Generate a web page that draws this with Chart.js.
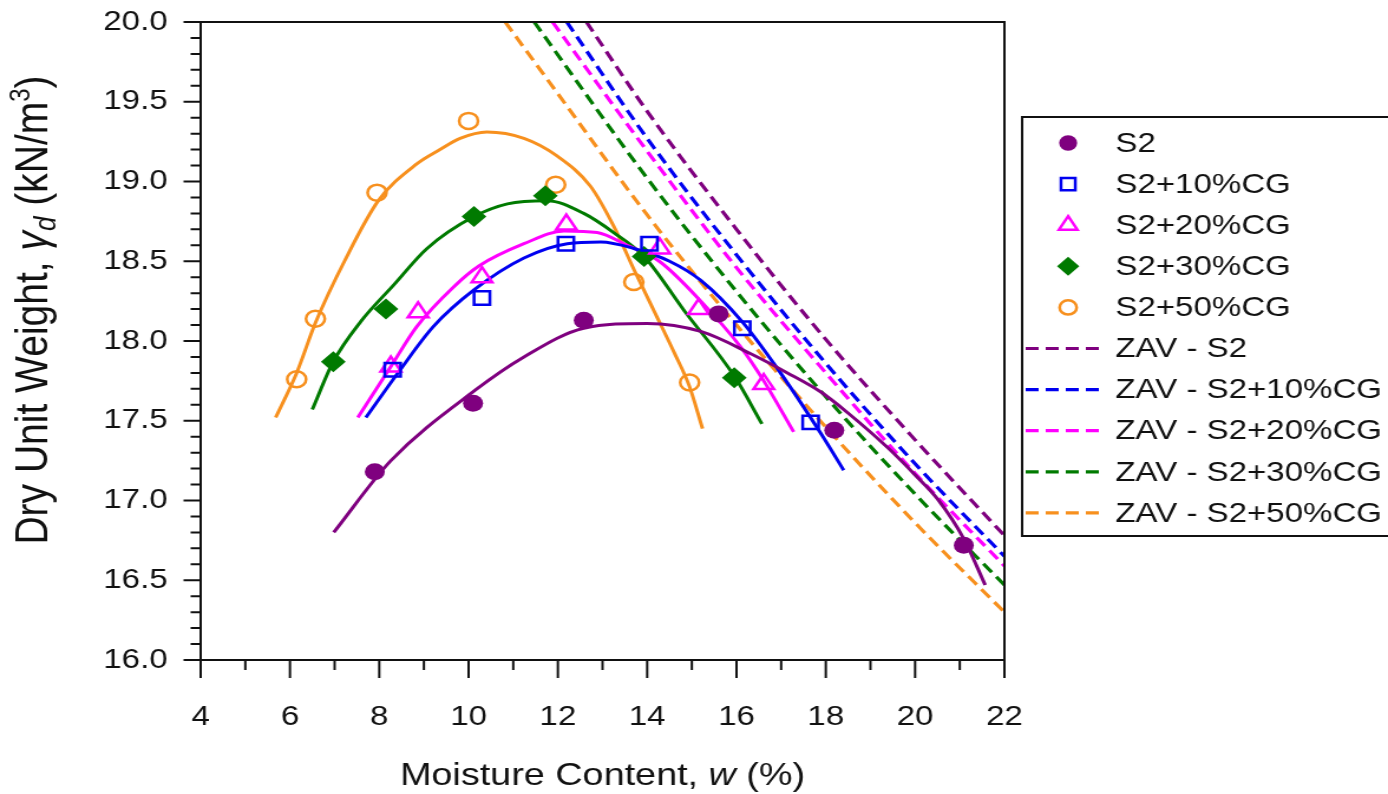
<!DOCTYPE html>
<html>
<head>
<meta charset="utf-8">
<script src="https://cdn.jsdelivr.net/npm/chart.js@4.4.1/dist/chart.umd.min.js"></script>
<style>
  html, body { margin: 0; padding: 0; background: #fff; overflow: hidden; }
</style>
</head>
<body>
<!-- the source figure is stretched horizontally, so the canvas is drawn
     1176px wide and widened by its inline style to the full 1388px -->
<canvas id="chart" width="1176" height="794" style="display:block;width:1388px;height:794px"></canvas>
<script>
// ── Axis ticks ─────────────────────────────────────────
const xTicks = [4, 6, 8, 10, 12, 14, 16, 18, 20, 22];
const yTicks = [16.0, 16.5, 17.0, 17.5, 18.0, 18.5, 19.0, 19.5, 20.0];
const yTickLabels = ['16.0', '16.5', '17.0', '17.5', '18.0', '18.5', '19.0', '19.5', '20.0'];

// ── Measured points: moisture content w (%) / dry unit weight (kN/m3) ──
const wS2    = [7.90, 10.10, 12.58, 15.60, 18.19, 21.09];
const gdS2   = [17.18, 17.61, 18.13, 18.17, 17.44, 16.72];
const wCG10  = [8.30, 10.30, 12.18, 14.05, 16.13, 17.66];
const gdCG10 = [17.82, 18.27, 18.61, 18.61, 18.08, 17.49];
const wCG20  = [8.26, 8.87, 10.30, 12.19, 14.28, 15.15, 16.61];
const gdCG20 = [17.84, 18.18, 18.40, 18.73, 18.58, 18.20, 17.73];
const wCG30  = [6.97, 8.15, 10.12, 11.72, 13.93, 15.95];
const gdCG30 = [17.87, 18.20, 18.78, 18.91, 18.53, 17.77];
const wCG50  = [6.15, 6.57, 7.95, 10.00, 11.95, 13.70, 14.95];
const gdCG50 = [17.76, 18.14, 18.93, 19.38, 18.98, 18.37, 17.74];

// ── Fitted compaction curves ──
const fitWS2    = [6.98, 8.26, 10.14, 11.24, 12.58, 14.00, 15.20, 16.32, 17.14, 17.89, 18.49, 19.39, 20.00, 20.50, 21.09, 21.57];
const fitGdS2   = [16.80, 17.25, 17.69, 17.90, 18.08, 18.11, 18.06, 17.92, 17.80, 17.68, 17.55, 17.33, 17.16, 17.01, 16.76, 16.47];
const fitWCG10  = [7.70, 8.47, 9.21, 10.12, 11.24, 12.21, 12.96, 13.70, 14.50, 15.20, 16.13, 16.91, 17.89, 18.40];
const fitGdCG10 = [17.52, 17.82, 18.09, 18.32, 18.52, 18.61, 18.62, 18.58, 18.50, 18.38, 18.12, 17.83, 17.42, 17.19];
const fitWCG20  = [7.52, 8.26, 8.84, 9.67, 10.23, 11.24, 12.14, 12.88, 13.55, 14.27, 15.20, 16.10, 16.61, 17.28];
const fitGdCG20 = [17.52, 17.84, 18.09, 18.34, 18.47, 18.61, 18.69, 18.68, 18.60, 18.50, 18.25, 17.96, 17.75, 17.43];
const fitWCG30  = [6.50, 6.97, 7.58, 8.32, 9.07, 10.12, 10.87, 11.76, 12.58, 13.25, 13.93, 14.83, 15.95, 16.57];
const fitGdCG30 = [17.57, 17.87, 18.12, 18.35, 18.58, 18.78, 18.86, 18.88, 18.80, 18.68, 18.53, 18.19, 17.78, 17.48];
const fitWCG50  = [5.68, 6.15, 6.58, 7.22, 7.98, 8.84, 9.36, 9.81, 10.41, 11.24, 11.98, 12.73, 13.25, 13.70, 14.22, 14.60, 14.94, 15.24];
const fitGdCG50 = [17.52, 17.80, 18.12, 18.50, 18.88, 19.11, 19.20, 19.27, 19.31, 19.27, 19.16, 18.97, 18.72, 18.45, 18.15, 17.93, 17.72, 17.45];

// ── Zero air voids lines (dashed) ──────────────────────
const zavWS2    = [12.64, 14, 16, 18, 20, 22];
const zavGdS2   = [20.00, 19.44, 18.70, 18.01, 17.38, 16.78];
const zavWCG10  = [12.20, 14, 16, 18, 20, 22];
const zavGdCG10 = [20.00, 19.27, 18.54, 17.86, 17.23, 16.65];
const zavWCG20  = [11.88, 14, 16, 18, 20, 22];
const zavGdCG20 = [20.00, 19.19, 18.46, 17.80, 17.17, 16.59];
const zavWCG30  = [11.47, 14, 16, 18, 20, 22];
const zavGdCG30 = [20.00, 19.02, 18.31, 17.65, 17.04, 16.47];
const zavWCG50  = [10.82, 12, 14, 16, 18, 20, 22];
const zavGdCG50 = [20.00, 19.55, 18.79, 18.10, 17.46, 16.86, 16.30];

// ── Styling ────────────────────────────────────────────
const PURPLE = '#7f007f';
const BLUE = '#0000f0';
const MAGENTA = '#ff00ff';
const GREEN = '#007a00';
const ORANGE = '#f7901e';
const FONT = "'Liberation Sans', Arial, sans-serif";
const PLOT_TOP = 22;

const toXY = (xs, ys) => xs.map((x, i) => ({ x, y: ys[i] }));

function markerSet(label, xs, ys, color, style, radius, filled) {
  return {
    label,
    data: toXY(xs, ys),
    showLine: false,
    pointStyle: style,
    pointRadius: radius,
    pointHoverRadius: radius,
    pointBackgroundColor: filled ? color : 'rgba(0,0,0,0)',
    pointBorderColor: color,
    pointBorderWidth: filled ? 0 : 2.5,
    _legend: 'marker',
  };
}

function curveSet(label, xs, ys, color, dashed) {
  return {
    label,
    data: toXY(xs, ys),
    showLine: true,
    borderColor: color,
    borderWidth: dashed ? 3.2 : 3,
    borderDash: dashed ? [11, 6] : [],
    pointRadius: 0,
    pointHoverRadius: 0,
    cubicInterpolationMode: 'monotone',
    fill: false,
    _legend: dashed ? 'line' : null,
  };
}

const datasets = [
  markerSet('S2', wS2, gdS2, PURPLE, 'circle', 8.5, true),
  markerSet('S2+10%CG', wCG10, gdCG10, BLUE, 'rect', 9.5, false),
  markerSet('S2+20%CG', wCG20, gdCG20, MAGENTA, 'triangle', 10, false),
  markerSet('S2+30%CG', wCG30, gdCG30, GREEN, 'rectRot', 10.5, true),
  markerSet('S2+50%CG', wCG50, gdCG50, ORANGE, 'circle', 8, false),
  curveSet('fit S2', fitWS2, fitGdS2, PURPLE, false),
  curveSet('fit S2+10%CG', fitWCG10, fitGdCG10, BLUE, false),
  curveSet('fit S2+20%CG', fitWCG20, fitGdCG20, MAGENTA, false),
  curveSet('fit S2+30%CG', fitWCG30, fitGdCG30, GREEN, false),
  curveSet('fit S2+50%CG', fitWCG50, fitGdCG50, ORANGE, false),
  curveSet('ZAV - S2', zavWS2, zavGdS2, PURPLE, true),
  curveSet('ZAV - S2+10%CG', zavWCG10, zavGdCG10, BLUE, true),
  curveSet('ZAV - S2+20%CG', zavWCG20, zavGdCG20, MAGENTA, true),
  curveSet('ZAV - S2+30%CG', zavWCG30, zavGdCG30, GREEN, true),
  curveSet('ZAV - S2+50%CG', zavWCG50, zavGdCG50, ORANGE, true),
];

// ── Helpers ────────────────────────────────────────────
function drawMarker(ctx, style, x, y, r) {
  ctx.beginPath();
  if (style === 'circle') {
    ctx.arc(x, y, r, 0, Math.PI * 2);
  } else if (style === 'rect') {
    const s = r * Math.SQRT1_2;
    ctx.rect(x - s, y - s, 2 * s, 2 * s);
  } else if (style === 'triangle') {
    ctx.moveTo(x, y - r);
    ctx.lineTo(x + r * 0.866, y + r * 0.5);
    ctx.lineTo(x - r * 0.866, y + r * 0.5);
  } else if (style === 'rectRot') {
    ctx.moveTo(x, y - r);
    ctx.lineTo(x + r, y);
    ctx.lineTo(x, y + r);
    ctx.lineTo(x - r, y);
  }
  ctx.closePath();
}

// draw text made of several runs (normal / italic / sub / sup), centred on cx
function drawRuns(ctx, runs, cx, cy) {
  let total = 0;
  runs.forEach(r => { ctx.font = r.font; r.w = ctx.measureText(r.text).width; total += r.w; });
  let x = cx - total / 2;
  ctx.textAlign = 'left';
  ctx.textBaseline = 'alphabetic';
  runs.forEach(r => {
    ctx.font = r.font;
    ctx.fillText(r.text, x, cy + (r.dy || 0));
    x += r.w;
  });
}

// ── Plugins ────────────────────────────────────────────
// frame round the plot and the major / minor tick marks (outward)
const axisDecor = {
  id: 'axisDecor',
  afterDatasetsDraw(chart) {
    const { ctx, chartArea: a, scales: { x, y } } = chart;
    ctx.save();
    ctx.strokeStyle = '#111';
    ctx.lineWidth = 2;
    ctx.setLineDash([]);
    ctx.strokeRect(a.left, a.top, a.right - a.left, a.bottom - a.top);

    ctx.beginPath();
    for (let i = 0; i <= 18; i++) {
      const px = x.getPixelForValue(4 + i);
      const len = i % 2 === 0 ? 18 : 10;
      ctx.moveTo(px, a.bottom);
      ctx.lineTo(px, a.bottom + len);
    }
    for (let i = 0; i <= 40; i++) {
      const py = y.getPixelForValue(16 + i * 0.1);
      const len = i % 5 === 0 ? 14.5 : 8.5;
      ctx.moveTo(a.left, py);
      ctx.lineTo(a.left - len, py);
    }
    ctx.stroke();
    ctx.restore();
  },
};

// axis titles with italic symbols, subscript and superscript
const axisTitles = {
  id: 'axisTitles',
  afterDraw(chart) {
    const { ctx, chartArea: a } = chart;
    ctx.save();
    ctx.fillStyle = '#111';
    drawRuns(ctx, [
      { text: 'Moisture Content, ', font: `32px ${FONT}` },
      { text: 'w', font: `italic 32px ${FONT}` },
      { text: ' (%)', font: `32px ${FONT}` },
    ], (a.left + a.right) / 2, 785);

    ctx.translate(40, 310);
    ctx.rotate(-Math.PI / 2);
    drawRuns(ctx, [
      { text: 'Dry Unit Weight, ', font: `39px ${FONT}` },
      { text: 'γ', font: `italic 39px ${FONT}` },
      { text: 'd', font: `italic 26px ${FONT}`, dy: 7 },
      { text: ' (kN/m', font: `39px ${FONT}` },
      { text: '3', font: `24px ${FONT}`, dy: -15 },
      { text: ')', font: `39px ${FONT}` },
    ], 0, 0);
    ctx.restore();
  },
};

// boxed legend on the right, cut by the picture edge like the original
const boxLegend = {
  id: 'boxLegend',
  afterDraw(chart) {
    const { ctx } = chart;
    const items = chart.data.datasets.filter(d => d._legend);
    const left = 866, top = 117, bottom = 536, rowTop = 143, rowGap = 41.1;
    ctx.save();
    ctx.fillStyle = '#fff';
    ctx.fillRect(left, top, 400, bottom - top);
    ctx.strokeStyle = '#111';
    ctx.lineWidth = 2;
    ctx.strokeRect(left, top, 400, bottom - top);

    items.forEach((d, i) => {
      const yy = rowTop + i * rowGap;
      if (d._legend === 'marker') {
        drawMarker(ctx, d.pointStyle, 905, yy, d.pointRadius * 0.9);
        if (d.pointBorderWidth === 0) {
          ctx.fillStyle = d.pointBackgroundColor;
          ctx.fill();
        } else {
          ctx.lineWidth = d.pointBorderWidth;
          ctx.strokeStyle = d.pointBorderColor;
          ctx.stroke();
        }
      } else {
        ctx.beginPath();
        ctx.setLineDash(d.borderDash);
        ctx.lineWidth = d.borderWidth;
        ctx.strokeStyle = d.borderColor;
        ctx.moveTo(869, yy);
        ctx.lineTo(933, yy);
        ctx.stroke();
        ctx.setLineDash([]);
      }
      ctx.fillStyle = '#111';
      ctx.font = `28px ${FONT}`;
      ctx.textAlign = 'left';
      ctx.textBaseline = 'middle';
      ctx.fillText(d.label, 945, yy + 1);
    });
    ctx.restore();
  },
};

// ── Chart ──────────────────────────────────────────────
const chart = new Chart(document.getElementById('chart'), {
  type: 'scatter',
  data: { datasets },
  options: {
    responsive: false,
    animation: false,
    devicePixelRatio: 1,
    events: [],
    layout: { padding: { top: PLOT_TOP, right: 325, bottom: 0, left: 0 } },
    plugins: {
      legend: { display: false },
      tooltip: { enabled: false },
    },
    scales: {
      x: {
        type: 'linear',
        min: 4,
        max: 22,
        afterBuildTicks: s => { s.ticks = xTicks.map(v => ({ value: v })); },
        afterFit: s => {
          s.height = 134;
          s.paddingLeft = 0; s.paddingRight = 0;
        },
        grid: { display: false, drawTicks: false },
        border: { display: false },
        ticks: {
          autoSkip: false,
          maxRotation: 0,
          padding: 40,
          color: '#111',
          font: { family: FONT, size: 28 },
        },
      },
      y: {
        type: 'linear',
        min: 16,
        max: 20,
        afterBuildTicks: s => { s.ticks = yTicks.map(v => ({ value: v })); },
        afterFit: s => {
          s.width = 170;
          // label overhang is already covered by the layout padding
          s.paddingTop = 0; s.paddingBottom = 0;
        },
        grid: { display: false, drawTicks: false },
        border: { display: false },
        ticks: {
          autoSkip: false,
          padding: 28,
          color: '#111',
          font: { family: FONT, size: 28 },
          callback: (v, i) => yTickLabels[i],
        },
      },
    },
  },
  plugins: [axisDecor, axisTitles, boxLegend],
});

// safety net: if the layout still shifts the plot, pull its top back to PLOT_TOP
for (let k = 0; k < 4; k++) {
  const d = chart.chartArea.top - PLOT_TOP;
  if (Math.abs(d) < 0.5) break;
  const pad = chart.options.layout.padding;
  chart.options.layout.padding = { top: pad.top - d, right: 325, bottom: 0, left: 0 };
  chart.update();
}
</script>
</body>
</html>
